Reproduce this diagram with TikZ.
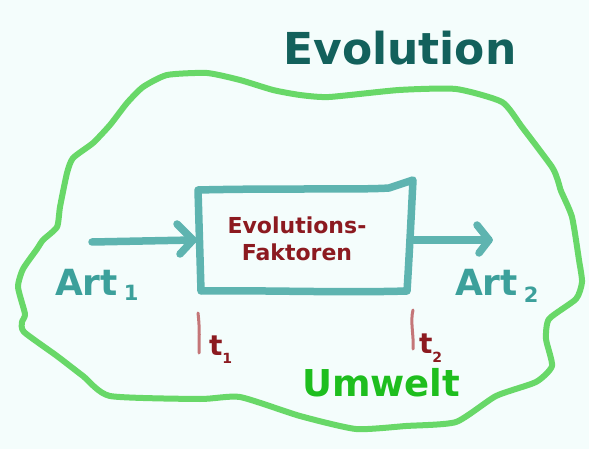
\documentclass[tikz,border=0pt]{standalone}
\usepackage{fontspec}
\setmainfont{DejaVu Sans}
\definecolor{bgc}{RGB}{244,253,252}
\definecolor{blobc}{RGB}{104,216,104}
\definecolor{boxc}{RGB}{94,180,176}
\definecolor{artc}{RGB}{60,160,155}
\definecolor{titlec}{RGB}{19,97,92}
\definecolor{redc}{RGB}{140,26,32}
\definecolor{tickc}{RGB}{196,118,120}
\definecolor{umc}{RGB}{30,190,30}
\newcommand{\fs}[1]{\fontsize{#1}{#1}\selectfont}
\begin{document}
\begin{tikzpicture}[x=1pt,y=-1pt,
  txt/.style={inner sep=0pt,outer sep=0pt,font=\bfseries},
  pen/.style={line cap=round,line join=round},
  blobline/.style={pen,draw=blobc,line width=6pt},
  boxline/.style={pen,draw=boxc,line width=7.5pt},
  tickline/.style={pen,draw=tickc,line width=3pt}]
\fill[bgc] (0,0) rectangle (589,449);
\useasboundingbox (0,0) rectangle (589,449);

% surrounding environment
\draw[blobline] plot[smooth cycle,tension=0.35] coordinates {
 (143,87) (167,75) (207,73) (240,80) (273,90) (300,95) (329,97) (399,90)
 (456,89) (502,102) (522,127) (552,167) (558,181) (561,191) (572,217)
 (579,260) (582,282) (576,299) (549,319) (546,339) (552,366) (536,382)
 (496,396) (456,422) (406,426) (356,429) (300,416) (240,397) (200,399)
 (110,396) (83,376) (57,356) (24,332) (22,322) (25,314) (18,287) (23,269)
 (37,249) (43,240) (57,227) (60,207) (67,173) (73,158) (93,143) (110,125)
 (127,103)};

% box corners
\coordinate (tl) at (198,190);
\coordinate (tr) at (413,180);
\coordinate (br) at (407,291);
\coordinate (bl) at (201,291);
\draw[boxline] (tl) .. controls (280,188) and (360,190) .. (389,188)
  -- (tr) .. controls (411,220) and (409,260) .. (br)
  .. controls (340,293) and (260,290) .. (bl) -- cycle;

% input and output arrows
\coordinate (in0) at (92,242);
\coordinate (in1) at (193,240);
\coordinate (out0) at (414,240);
\coordinate (out1) at (489,240);
\draw[boxline] (in0) -- (in1);
\draw[boxline] (177,224) -- (in1) -- (180,254);
\draw[boxline] (out0) -- (out1);
\draw[boxline] (477,225) -- (out1) -- (479,253);

% texts
\node[txt,text=titlec,anchor=base] (title) at (400,65) {\fs{44}Evolution};
\node[txt,text=redc,align=center,anchor=base,
  font=\bfseries\fontsize{22}{28}\selectfont] (fak) at (297,261)
  {Evolutions-\\Faktoren};
\node[txt,text=artc,anchor=base west] (art1) at (55,295)
  {\fs{36}Art\hspace{6pt}\raisebox{-5pt}{\fs{21}1}};
\node[txt,text=artc,anchor=base west] (art2) at (455,295)
  {\fs{36}Art\hspace{6pt}\raisebox{-7pt}{\fs{21}2}};
\node[txt,text=umc,anchor=base west] (umw) at (302,396) {\fs{37}Umwelt};

% time marks
\draw[tickline] (198,313) .. controls (200,330) and (199,340) .. (199,353);
\draw[tickline] (413,310) .. controls (410,322) and (414,335) .. (413,349);
\node[txt,text=redc,anchor=base west] (t1) at (209,355)
  {\fs{28}t\raisebox{-8pt}{\fs{14}1}};
\node[txt,text=redc,anchor=base west] (t2) at (419,353)
  {\fs{28}t\raisebox{-9pt}{\fs{14}2}};
\end{tikzpicture}
\end{document}
